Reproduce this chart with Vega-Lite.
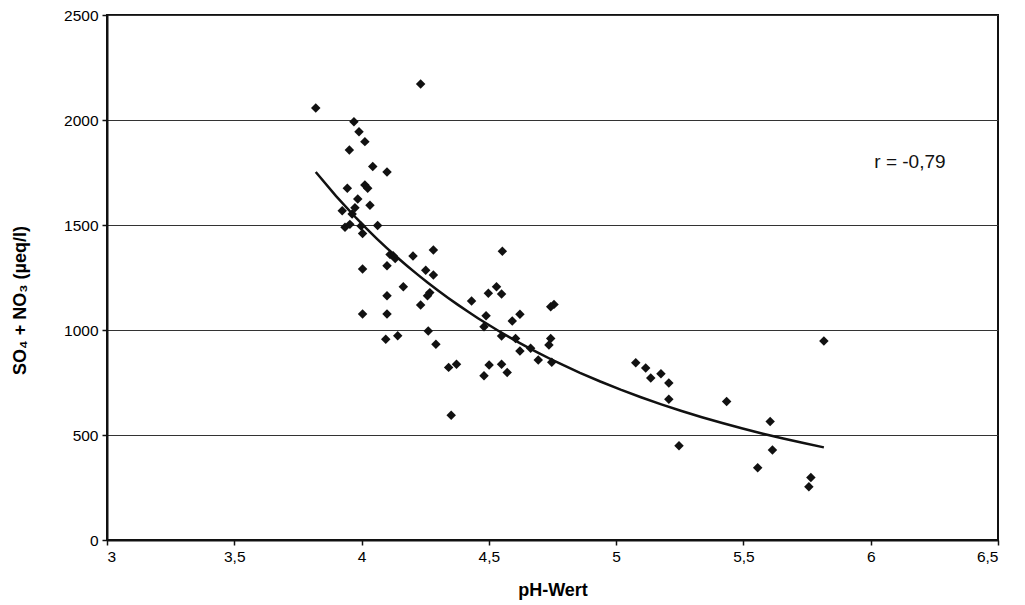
{
  "$schema": "https://vega.github.io/schema/vega-lite/v6.json",
  "width": 891,
  "height": 525,
  "autosize": "none",
  "padding": {"left": 107, "top": 15, "right": 27, "bottom": 65},
  "background": "white",
  "config": {
    "font": "Liberation Sans",
    "view": {"stroke": "#111111", "strokeWidth": 2},
    "axis": {
      "labelColor": "#000000",
      "titleColor": "#000000",
      "labelFontSize": 15.5,
      "titleFontSize": 18,
      "titleFontWeight": "bold",
      "domainColor": "#111111",
      "domainWidth": 2,
      "tickColor": "#111111",
      "tickWidth": 1.5,
      "tickSize": 5,
      "labelPadding": 4
    }
  },
  "data": {
    "values": [
      {"pH": 3.82, "SO": 2057}, {"pH": 3.97, "SO": 1992}, {"pH": 3.99, "SO": 1944},
      {"pH": 4.013, "SO": 1897}, {"pH": 3.952, "SO": 1857}, {"pH": 4.044, "SO": 1779},
      {"pH": 4.10, "SO": 1752}, {"pH": 3.944, "SO": 1675}, {"pH": 4.013, "SO": 1690},
      {"pH": 4.024, "SO": 1675}, {"pH": 3.985, "SO": 1624}, {"pH": 4.033, "SO": 1594},
      {"pH": 3.974, "SO": 1582}, {"pH": 3.924, "SO": 1568}, {"pH": 3.963, "SO": 1552},
      {"pH": 3.935, "SO": 1489}, {"pH": 3.954, "SO": 1503}, {"pH": 3.998, "SO": 1495},
      {"pH": 4.004, "SO": 1460}, {"pH": 4.063, "SO": 1498}, {"pH": 4.112, "SO": 1360},
      {"pH": 4.124, "SO": 1354}, {"pH": 4.132, "SO": 1341}, {"pH": 4.202, "SO": 1352},
      {"pH": 4.282, "SO": 1381}, {"pH": 4.004, "SO": 1290}, {"pH": 4.10, "SO": 1306},
      {"pH": 4.252, "SO": 1284}, {"pH": 4.282, "SO": 1262}, {"pH": 4.164, "SO": 1206},
      {"pH": 4.10, "SO": 1163}, {"pH": 4.268, "SO": 1178}, {"pH": 4.259, "SO": 1163},
      {"pH": 4.232, "SO": 1119}, {"pH": 4.432, "SO": 1138}, {"pH": 4.489, "SO": 1068},
      {"pH": 4.498, "SO": 1175}, {"pH": 4.004, "SO": 1076}, {"pH": 4.10, "SO": 1076},
      {"pH": 4.262, "SO": 995}, {"pH": 4.481, "SO": 1016}, {"pH": 4.095, "SO": 956},
      {"pH": 4.142, "SO": 973}, {"pH": 4.292, "SO": 932}, {"pH": 4.342, "SO": 822},
      {"pH": 4.373, "SO": 837}, {"pH": 4.481, "SO": 782}, {"pH": 4.501, "SO": 833},
      {"pH": 4.352, "SO": 594}, {"pH": 4.530, "SO": 1206}, {"pH": 4.550, "SO": 1171},
      {"pH": 4.622, "SO": 1075}, {"pH": 4.592, "SO": 1043}, {"pH": 4.550, "SO": 971},
      {"pH": 4.605, "SO": 960}, {"pH": 4.622, "SO": 900}, {"pH": 4.664, "SO": 913},
      {"pH": 4.694, "SO": 857}, {"pH": 4.743, "SO": 959}, {"pH": 4.736, "SO": 929},
      {"pH": 4.747, "SO": 846}, {"pH": 4.743, "SO": 1111}, {"pH": 4.756, "SO": 1122},
      {"pH": 4.550, "SO": 837}, {"pH": 4.572, "SO": 798}, {"pH": 4.232, "SO": 2171},
      {"pH": 4.553, "SO": 1375}, {"pH": 5.816, "SO": 948}, {"pH": 5.077, "SO": 844},
      {"pH": 5.116, "SO": 819}, {"pH": 5.136, "SO": 771}, {"pH": 5.176, "SO": 792},
      {"pH": 5.207, "SO": 748}, {"pH": 5.207, "SO": 670}, {"pH": 5.434, "SO": 660},
      {"pH": 5.605, "SO": 564}, {"pH": 5.247, "SO": 449}, {"pH": 5.614, "SO": 429},
      {"pH": 5.556, "SO": 344}, {"pH": 5.765, "SO": 298}, {"pH": 5.757, "SO": 254}
    ]
  },
  "layer": [
    {
      "mark": {"type": "point", "shape": "diamond", "filled": true, "color": "#111111", "size": 90, "opacity": 1},
      "encoding": {
        "x": {
          "field": "pH", "type": "quantitative",
          "scale": {"domain": [3, 6.5], "nice": false, "zero": false},
          "axis": {
            "values": [3, 3.5, 4, 4.5, 5, 5.5, 6, 6.5],
            "labelExpr": "replace(format(datum.value, '.1~f'), '.', ',')",
            "grid": false,
            "title": "pH-Wert",
            "titlePadding": 17
          }
        },
        "y": {
          "field": "SO", "type": "quantitative",
          "scale": {"domain": [0, 2500], "nice": false},
          "axis": {
            "values": [0, 500, 1000, 1500, 2000, 2500],
            "labelExpr": "format(datum.value, 'd')",
            "grid": true,
            "gridColor": "#333333",
            "gridWidth": 1.2,
            "title": "SO₄ + NO₃ (µeq/l)",
            "titleY": 285,
            "titlePadding": 34
          }
        }
      }
    },
    {
      "transform": [{"regression": "SO", "on": "pH", "method": "pow", "extent": [3.82, 5.816]}],
      "mark": {"type": "line", "color": "#111111", "strokeWidth": 2.5},
      "encoding": {
        "x": {"field": "pH", "type": "quantitative"},
        "y": {"field": "SO", "type": "quantitative"}
      }
    },
    {
      "data": {"values": [{"pH": 6.154, "SO": 1800, "label": "r = -0,79"}]},
      "mark": {"type": "text", "fontSize": 19, "color": "#111111", "align": "center", "baseline": "middle"},
      "encoding": {
        "x": {"field": "pH", "type": "quantitative"},
        "y": {"field": "SO", "type": "quantitative"},
        "text": {"field": "label"}
      }
    }
  ]
}
